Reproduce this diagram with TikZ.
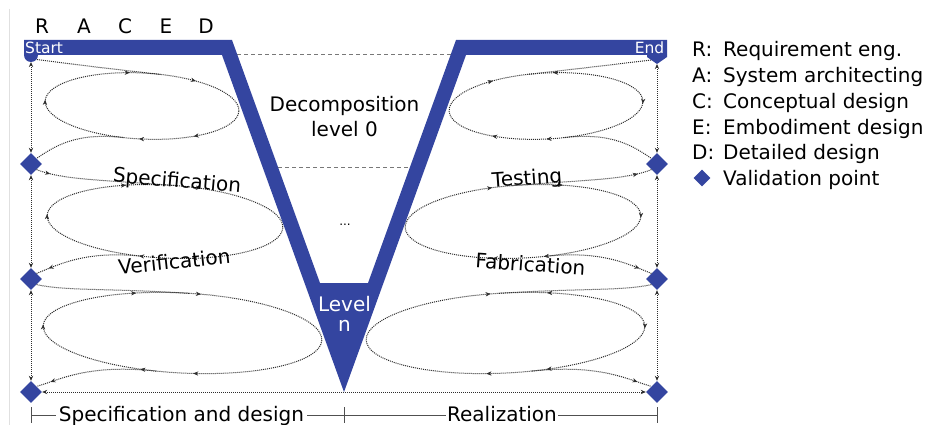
\documentclass[tikz,border=0pt]{standalone}
\usepackage{fontspec}
\setmainfont{DejaVu Sans}
\usetikzlibrary{arrows.meta,calc,decorations.markings,shapes.geometric}
\definecolor{vblue}{RGB}{52,69,160}
\definecolor{dotc}{RGB}{45,45,45}
\definecolor{dashc}{RGB}{120,120,120}
\definecolor{dimc}{RGB}{80,80,80}
\newcommand\setell[4]{\def\ellcx{#1}\def\ellcy{#2}\def\ellrx{#3}\def\ellry{#4}}
\newcommand\ellpt[3]{%
  \coordinate (#1) at ({\ellcx+\ellrx*cos(#2)},{\ellcy+\ellry*sin(#2)});
  \coordinate (#1c) at ({\ellcx+\ellrx*cos(#2)-(#3)*\ellrx*sin(#2)},{\ellcy+\ellry*sin(#2)+(#3)*\ellry*cos(#2)});}
\newcommand\etip[1]{\draw[tipst] ({\ellcx+\ellrx*cos(#1)},{\ellcy+\ellry*sin(#1)}) -- ++({-\ellrx*sin(#1)*0.03},{\ellry*cos(#1)*0.03});}
\newcommand\etipr[1]{\draw[tipst] ({\ellcx+\ellrx*cos(#1)},{\ellcy+\ellry*sin(#1)}) -- ++({\ellrx*sin(#1)*0.03},{-\ellry*cos(#1)*0.03});}
\begin{document}
\begin{tikzpicture}[x=1pt,y=-1pt,
  every node/.style={font=\fontsize{20}{24}\selectfont, inner sep=0pt},
  dotline/.style={dotc, line width=1pt, dash pattern=on 1pt off 1pt},
  tipst/.style={dotc, line width=0.4pt, solid, -{Stealth[length=5pt,width=4.2pt]}},
  both/.style={{Stealth[length=5pt,width=4.2pt]}-{Stealth[length=5pt,width=4.2pt]}},
  tipat/.style={postaction={decorate,decoration={markings,mark=at position #1 with {\arrow{Stealth[length=5pt,width=4.2pt]}}}}},
  tipatr/.style={postaction={decorate,decoration={markings,mark=at position #1 with {\arrowreversed{Stealth[length=5pt,width=4.2pt]}}}}},
  dashline/.style={dashc, line width=0.7pt, dash pattern=on 4pt off 3pt},
  dimline/.style={dimc, line width=1pt},
  vdiam/.style={diamond, fill=vblue, minimum width=22pt, minimum height=22pt, inner sep=0pt},
  ldiam/.style={diamond, fill=vblue, minimum width=17pt, minimum height=17pt, inner sep=0pt},
  small/.style={font=\fontsize{15.5}{18}\selectfont, text=white},
  wlab/.style={fill=white, inner xsep=3pt, inner ysep=0pt}]
\useasboundingbox (0,0) rectangle (929,425);
\fill[white] (0,0) rectangle (929,425);
\draw[black!12, line width=0.8pt] (9.5,9) -- (9.5,425);

% markers and validation points
\coordinate (startpt) at (31,62);
\coordinate (starto) at (37,59.5);
\coordinate (endpt) at (657,64);
\coordinate (endo) at (651,60);
\node[vdiam] (L1) at (31,164) {};
\node[vdiam] (L2) at (31,279) {};
\node[vdiam] (L3) at (31,392) {};
\node[vdiam] (R1) at (657,164) {};
\node[vdiam] (R2) at (657,279) {};
\node[vdiam] (R3) at (657,392) {};

% vertical and bottom connectors
\draw[dotline, both] (startpt) -- (L1.north);
\draw[dotline, both] (L1.south) -- (L2.north);
\draw[dotline, both] (L2.south) -- (L3.north);
\draw[dotline, both] (endpt) -- (R1.north);
\draw[dotline, both] (R1.south) -- (R2.north);
\draw[dotline, both] (R2.south) -- (R3.north);
\draw[dotline, both] (L3.east) -- (R3.west);

% ---- left loops ----
\begin{scope}[rotate around={-3:(142,106)}]
  \setell{142}{106}{97}{33}
  \draw[dotline] (142,106) ellipse [x radius=97, y radius=33];
  \etip{260}\etip{301}\etip{55}\etip{89}\etip{180}
  \ellpt{E1a}{280}{-0.6}
  \ellpt{E1b}{100}{0.5}
\end{scope}
\draw[dotline] (starto) .. controls (70,64) and (E1ac) .. (E1a);
\draw[dotline] (E1b) .. controls (E1bc) and (55,146) .. (L1.north east);

\begin{scope}[rotate around={-3:(165,221.5)}]
  \setell{165}{221.5}{118}{36.5}
  \draw[dotline] (165,221.5) ellipse [x radius=118, y radius=36.5];
  \etip{248}\etip{285}\etip{74}\etip{100}\etip{180}
  \ellpt{E2a}{275}{-0.6}
  \ellpt{E2b}{100}{0.5}
\end{scope}
\draw[dotline, tipat=0.1] (L1.south east) .. controls (62,180) and (E2ac) .. (E2a);
\draw[dotline, tipat=0.88] (E2b) .. controls (E2bc) and (58,265) .. (L2.north east);

\begin{scope}[rotate around={-3:(182.5,333)}]
  \setell{182.5}{333}{139.5}{40}
  \draw[dotline] (182.5,333) ellipse [x radius=139.5, y radius=40];
  \etip{248}\etip{275}\etip{83}\etip{105}\etip{180}
  \ellpt{E3a}{272}{-0.6}
  \ellpt{E3b}{100}{0.5}
\end{scope}
\draw[dotline] (L2.south east) .. controls (65,291) and (E3ac) .. (E3a);
\draw[dotline, tipat=0.88] (E3b) .. controls (E3bc) and (62,379) .. (L3.north east);

% ---- right loops ----
\begin{scope}[rotate around={3:(546,106)}]
  \setell{546}{106}{97}{33}
  \draw[dotline] (546,106) ellipse [x radius=97, y radius=33];
  \etip{236}\etipr{277}\etip{3}\etip{123}\etip{89}
  \ellpt{E4a}{260}{0.6}
  \ellpt{E4b}{80}{-0.5}
\end{scope}
\draw[dotline] (endo) .. controls (618,64) and (E4ac) .. (E4a);
\draw[dotline] (E4b) .. controls (E4bc) and (633,146) .. (R1.north west);

\begin{scope}[rotate around={3:(523,221.5)}]
  \setell{523}{221.5}{118}{36.5}
  \draw[dotline] (523,221.5) ellipse [x radius=118, y radius=36.5];
  \etip{254}\etip{289}\etip{2}\etip{79}\etip{104}
  \ellpt{E5a}{265}{0.6}
  \ellpt{E5b}{80}{-0.5}
\end{scope}
\draw[dotline, tipatr=0.1] (R1.south west) .. controls (626,180) and (E5ac) .. (E5a);
\draw[dotline, tipat=0.88] (E5b) .. controls (E5bc) and (630,265) .. (R2.north west);

\begin{scope}[rotate around={3:(505.5,333)}]
  \setell{505.5}{333}{139.5}{40}
  \draw[dotline] (505.5,333) ellipse [x radius=139.5, y radius=40];
  \etip{263}\etipr{290}\etip{2}\etip{72}\etip{97}
  \ellpt{E6a}{268}{0.6}
  \ellpt{E6b}{80}{-0.5}
\end{scope}
\draw[dotline] (R2.south west) .. controls (623,291) and (E6ac) .. (E6a);
\draw[dotline, tipat=0.88] (E6b) .. controls (E6bc) and (626,379) .. (R3.north west);

% dashed level lines
\draw[dashline] (237,54) -- (451,54);
\draw[dashline] (278,167) -- (410,167);

% V shape
\fill[vblue] (24,40) -- (232,40) -- (320,283) -- (368,283) -- (456,40) -- (667,40)
  -- (667,55) -- (466,55) -- (344,392) -- (222,55) -- (24,55) -- cycle;
\fill[vblue] (31,55) circle (7);
\fill[vblue] (647,55) -- (667,55) -- (667,57) -- (657,64) -- (647,57) -- cycle;

% texts
\node[small, anchor=base west] (start) at (25,53.5) {Start};
\node[small, anchor=base east] (end) at (664.5,54) {End};
\node[anchor=base] (lR) at (42,34) {R};
\node[anchor=base] (lA) at (84,34) {A};
\node[anchor=base] (lC) at (125,34) {C};
\node[anchor=base] (lE) at (166,34) {E};
\node[anchor=base] (lD) at (206,34) {D};
\node[anchor=base] (dec) at (344.5,111.7) {Decomposition};
\node[anchor=base] (lev0) at (344.5,136.3) {level 0};
\node[anchor=base, font=\fontsize{12}{14}\selectfont] (dots) at (345,225) {...};
\node[anchor=base, text=white] (levn) at (344.5,311) {Level};
\node[anchor=base, text=white] (nn) at (344.5,331.5) {n};
\node[anchor=base, rotate=-5] (spec) at (176.5,187.5) {Specification};
\node[anchor=base, rotate=6] (verif) at (175,269) {Verification};
\node[anchor=base, rotate=4] (test) at (527.5,185) {Testing};
\node[anchor=base, rotate=-4] (fab) at (530,271.5) {Fabrication};

% dimension line
\coordinate (dA) at (31,415);
\coordinate (dB) at (344,415);
\coordinate (dC) at (657,415);
\draw[dimline] (dA) -- (dC);
\draw[dimline] ($(dA)+(0,-8)$) -- ($(dA)+(0,8)$);
\draw[dimline] ($(dB)+(0,-8)$) -- ($(dB)+(0,8)$);
\draw[dimline] ($(dC)+(0,-8)$) -- ($(dC)+(0,8)$);
\node[wlab, anchor=base] (sd) at (181.5,421.5) {Specification and design};
\node[wlab, inner xsep=1pt, anchor=base] (real) at (502,421.5) {Realization};

% legend
\node[anchor=base west] (kR) at (692,57) {R:};
\node[anchor=base west] (tR) at (723,57) {Requirement eng.};
\node[anchor=base west] (kA) at (692,82.7) {A:};
\node[anchor=base west] (tA) at (723,82.7) {System architecting};
\node[anchor=base west] (kC) at (692,108.4) {C:};
\node[anchor=base west] (tC) at (723,108.4) {Conceptual design};
\node[anchor=base west] (kE) at (692,134.1) {E:};
\node[anchor=base west] (tE) at (723,134.1) {Embodiment design};
\node[anchor=base west] (kD) at (692,159.8) {D:};
\node[anchor=base west] (tD) at (723,159.8) {Detailed design};
\node[ldiam] (kV) at (702,178) {};
\node[anchor=base west] (tV) at (723,185.5) {Validation point};
\end{tikzpicture}
\end{document}
